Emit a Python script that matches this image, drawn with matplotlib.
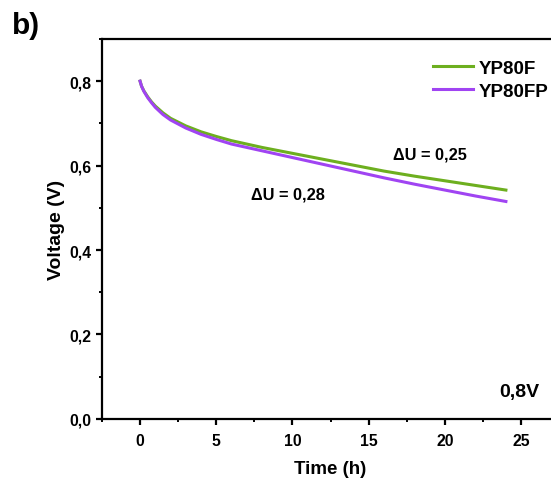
import numpy as np
import matplotlib.pyplot as plt
from matplotlib.ticker import MultipleLocator, FuncFormatter

# discharge curves
time_h = [0, 0.1, 0.25, 0.5, 0.75, 1, 1.5, 2, 3, 4, 5, 6, 8, 10, 12, 14, 16, 18, 20, 22, 24]
v_yp80f = [0.800, 0.788, 0.777, 0.763, 0.751, 0.741, 0.725, 0.712, 0.694, 0.680, 0.669, 0.659,
           0.643, 0.629, 0.615, 0.601, 0.587, 0.575, 0.564, 0.553, 0.542]
v_yp80fp = [0.800, 0.788, 0.776, 0.761, 0.749, 0.738, 0.721, 0.708, 0.689, 0.674, 0.662, 0.651,
            0.635, 0.619, 0.603, 0.587, 0.571, 0.556, 0.542, 0.528, 0.515]
series_names = ['YP80F', 'YP80FP']
colors = ['#6DAF1F', '#A044F2']

plt.rcParams['font.family'] = ['Liberation Sans', 'DejaVu Sans']
plt.rcParams['font.weight'] = 'bold'

fig = plt.figure(figsize=(5.51, 4.81), dpi=100)
ax = fig.add_axes([0.185, 0.127, 0.830, 0.790])

ax.plot(time_h, v_yp80f, color=colors[0], lw=2.2, label=series_names[0], solid_joinstyle='round')
ax.plot(time_h, v_yp80fp, color=colors[1], lw=2.2, label=series_names[1], solid_joinstyle='round')

ax.set_xlim(-2.5, 27.5)
ax.set_ylim(0, 0.9)
ax.xaxis.set_major_locator(MultipleLocator(5))
ax.xaxis.set_minor_locator(MultipleLocator(2.5))
ax.yaxis.set_major_locator(MultipleLocator(0.2))
ax.yaxis.set_minor_locator(MultipleLocator(0.1))
ax.yaxis.set_major_formatter(FuncFormatter(lambda v, p: ('%.1f' % v).replace('.', ',')))

for s in ax.spines.values():
	s.set_linewidth(1.6)
ax.tick_params(which='major', direction='out', length=4, width=1.6, labelsize=11.3)
ax.tick_params(axis='x', which='major', pad=6.5)
ax.tick_params(which='minor', direction='out', length=2.5, width=1.4)

ax.set_xlabel('Time (h)', fontsize=13.5, fontweight='bold', labelpad=8.5)
ax.set_ylabel('Voltage (V)', fontsize=14, fontweight='bold', labelpad=3)

ax.legend(loc='upper right', bbox_to_anchor=(1.0, 0.975), frameon=False,
          fontsize=13.5, handlelength=2.1, handletextpad=0.3, labelspacing=0.3,
          borderaxespad=0.2)

ax.text(19.0, 0.627, '\u0394U = 0,25', ha='center', va='center', fontsize=11.8, fontweight='bold')
ax.text(9.7, 0.532, '\u0394U = 0,28', ha='center', va='center', fontsize=11.8, fontweight='bold')
ax.text(24.9, 0.064, '0,8V', ha='center', va='center', fontsize=14, fontweight='bold')

fig.text(0.022, 0.945, 'b)', fontsize=21.5, fontweight='bold', va='center', ha='left')

fig.savefig('out.png', dpi=100)
